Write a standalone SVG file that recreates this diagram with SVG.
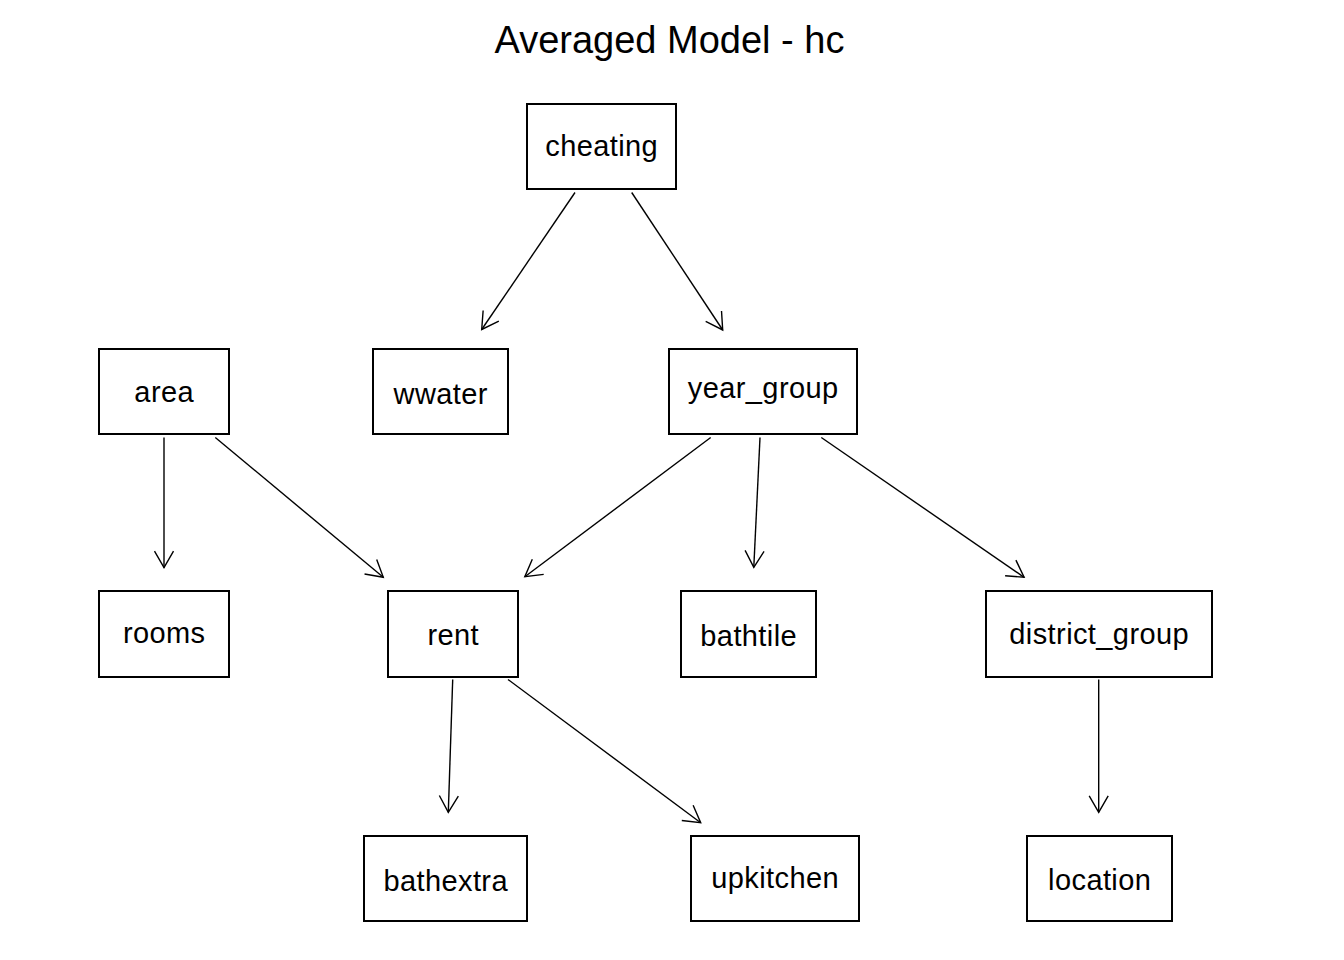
<svg xmlns="http://www.w3.org/2000/svg" width="1344" height="960" viewBox="0 0 1344 960">
  <style>
    .box { fill: #ffffff; stroke: #000000; stroke-width: 2; }
    .lbl { font-family: "Liberation Sans", Arial, sans-serif; font-size: 29px; letter-spacing: 0.4px; fill: #000000; text-anchor: middle; }
    .title { font-family: "Liberation Sans", Arial, sans-serif; font-size: 38px; fill: #000000; text-anchor: middle; }
    .edge { fill: none; stroke: #000000; stroke-width: 1.4; marker-end: url(#arr); }
  </style>
  <defs>
    <marker id="arr" markerUnits="userSpaceOnUse" markerWidth="40" markerHeight="40" viewBox="-20 -20 40 40" refX="0" refY="0" orient="auto" overflow="visible">
      <path d="M-16.5,-9.5 L0,0 L-16.5,9.5" fill="none" stroke="#000000" stroke-width="1.4"/>
    </marker>
  </defs>
  <rect width="1344" height="960" fill="#ffffff"/>
  <text class="title" x="669.5" y="53">Averaged Model - hc</text>

  <g id="connectors">
    <line class="edge" x1="575" y1="192.5" x2="481.7" y2="329.5"/>
    <line class="edge" x1="631.7" y1="192.5" x2="722.7" y2="330"/>
    <line class="edge" x1="164" y1="437.5" x2="164" y2="567.7"/>
    <line class="edge" x1="215.3" y1="437.5" x2="383.3" y2="577.3"/>
    <line class="edge" x1="710.7" y1="437.5" x2="524.8" y2="576.7"/>
    <line class="edge" x1="760" y1="437.5" x2="753.8" y2="567.3"/>
    <line class="edge" x1="821.3" y1="437.5" x2="1024.1" y2="577.3"/>
    <line class="edge" x1="452.7" y1="679.5" x2="448.3" y2="812.3"/>
    <line class="edge" x1="508" y1="679.5" x2="700.7" y2="822.7"/>
    <line class="edge" x1="1098.7" y1="679.5" x2="1098.7" y2="812.3"/>
  </g>

  <g id="cheating"><rect class="box" x="527" y="104" width="149" height="85"/><text class="lbl" x="601.7" y="156">cheating</text></g>
  <g id="area"><rect class="box" x="99" y="349" width="130" height="85"/><text class="lbl" x="164.2" y="401.5">area</text></g>
  <g id="wwater"><rect class="box" x="373" y="349" width="135" height="85"/><text class="lbl" x="440.7" y="403.5">wwater</text></g>
  <g id="year_group"><rect class="box" x="669" y="349" width="188" height="85"/><text class="lbl" x="763.2" y="397.5">year_group</text></g>
  <g id="rooms"><rect class="box" x="99" y="591" width="130" height="86"/><text class="lbl" x="164.2" y="642.5">rooms</text></g>
  <g id="rent"><rect class="box" x="388" y="591" width="130" height="86"/><text class="lbl" x="453.2" y="645">rent</text></g>
  <g id="bathtile"><rect class="box" x="681" y="591" width="135" height="86"/><text class="lbl" x="748.7" y="645.5">bathtile</text></g>
  <g id="district_group"><rect class="box" x="986" y="591" width="226" height="86"/><text class="lbl" x="1099.2" y="643.5">district_group</text></g>
  <g id="bathextra"><rect class="box" x="364" y="836" width="163" height="85"/><text class="lbl" x="445.7" y="890.5">bathextra</text></g>
  <g id="upkitchen"><rect class="box" x="691" y="836" width="168" height="85"/><text class="lbl" x="775.2" y="888">upkitchen</text></g>
  <g id="location"><rect class="box" x="1027" y="836" width="145" height="85"/><text class="lbl" x="1099.7" y="890">location</text></g>
</svg>
